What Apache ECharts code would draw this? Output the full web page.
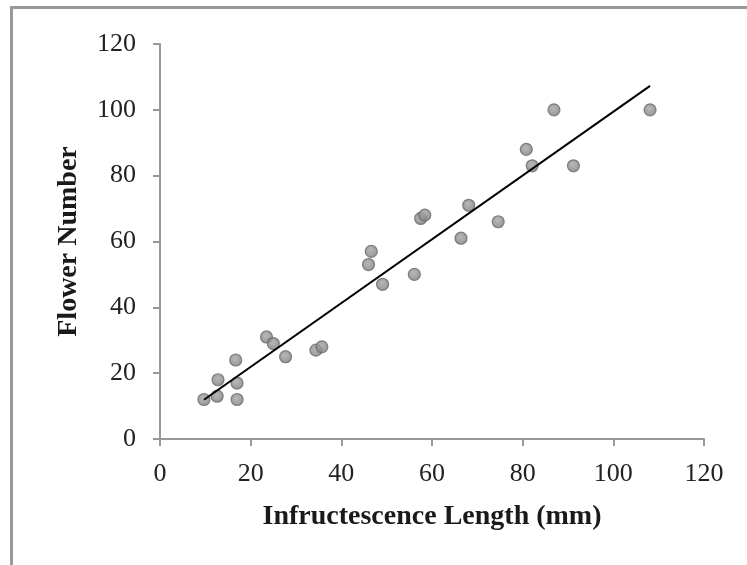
<!DOCTYPE html>
<html>
<head>
<meta charset="utf-8">
<script src="https://cdn.jsdelivr.net/npm/echarts@6/dist/echarts.min.js"></script>
<style>html,body{margin:0;padding:0;background:#fff}#c{width:747px;height:565px}</style>
</head>
<body>
<div id="c"></div>
<script>
var lengthMm = [9.7, 12.6, 12.8, 16.7, 17.0, 17.0, 23.5, 25.0, 27.7, 34.4, 35.7, 46.0, 46.6, 49.1, 56.1, 57.5, 58.4, 66.4, 68.1, 74.6, 80.8, 82.1, 86.9, 91.2, 108.1];
var flowerNum = [12, 13, 18, 24, 17, 12, 31, 29, 25, 27, 28, 53, 57, 47, 50, 67, 68, 61, 71, 66, 88, 83, 100, 83, 100];
var xTicks = [0, 20, 40, 60, 80, 100, 120];
var yTicks = [0, 20, 40, 60, 80, 100, 120];

var pts = lengthMm.map(function (x, i) { return [x, flowerNum[i]]; });
// least-squares trend line
var n = pts.length, sx = 0, sy = 0, sxx = 0, sxy = 0;
pts.forEach(function (p) { sx += p[0]; sy += p[1]; sxx += p[0] * p[0]; sxy += p[0] * p[1]; });
var slope = (n * sxy - sx * sy) / (n * sxx - sx * sx);
var icpt = (sy - slope * sx) / n;
var xmin = Math.min.apply(null, lengthMm), xmax = Math.max.apply(null, lengthMm);
var trend = [[xmin, icpt + slope * xmin], [xmax, icpt + slope * xmax]];

var chart = echarts.init(document.getElementById('c'));
var serif = '"Liberation Serif", "DejaVu Serif", serif';
chart.setOption({
  animation: false,
  graphic: [{
    type: 'rect', shape: { x: 11.5, y: 7.5, width: 760, height: 600 },
    style: { fill: 'none', stroke: '#999', lineWidth: 3 }, silent: true
  }],
  grid: { left: 160, right: 43, top: 44, bottom: 126 },
  xAxis: {
    type: 'value', min: 0, max: 120, interval: 20,
    name: 'Infructescence Length (mm)', nameLocation: 'middle', nameGap: 64,
    nameTextStyle: { fontFamily: serif, fontWeight: 'bold', fontSize: 28, color: '#1a1a1a' },
    axisLine: { show: true, lineStyle: { color: '#999', width: 2 } },
    axisTick: { show: true, length: 7, lineStyle: { color: '#999', width: 2 } },
    axisLabel: { fontFamily: serif, fontSize: 26, color: '#222', margin: 22,
      formatter: function (v) { return xTicks.indexOf(v) >= 0 ? String(v) : ''; } },
    splitLine: { show: false }
  },
  yAxis: {
    type: 'value', min: 0, max: 120, interval: 20,
    name: 'Flower Number', nameLocation: 'middle', nameGap: 77, nameRotate: 90,
    nameTextStyle: { fontFamily: serif, fontWeight: 'bold', fontSize: 28, color: '#1a1a1a' },
    axisLine: { show: true, lineStyle: { color: '#999', width: 2 } },
    axisTick: { show: true, length: 7, lineStyle: { color: '#999', width: 2 } },
    axisLabel: { fontFamily: serif, fontSize: 26, color: '#222', margin: 24,
      formatter: function (v) { return yTicks.indexOf(v) >= 0 ? String(v) : ''; } },
    splitLine: { show: false }
  },
  series: [{
    type: 'scatter', data: pts, symbol: 'circle', symbolSize: 12, z: 2,
    itemStyle: {
      color: { type: 'radial', x: 0.45, y: 0.4, r: 0.6,
        colorStops: [{ offset: 0, color: '#a6a6a6' }, { offset: 1, color: '#7a7a7a' }] },
      borderColor: '#6a6a6a', borderWidth: 1.2
    }
  }, {
    type: 'line', data: trend, symbol: 'none', z: 3,
    lineStyle: { color: '#000', width: 2 }
  }]
});
</script>
</body>
</html>
